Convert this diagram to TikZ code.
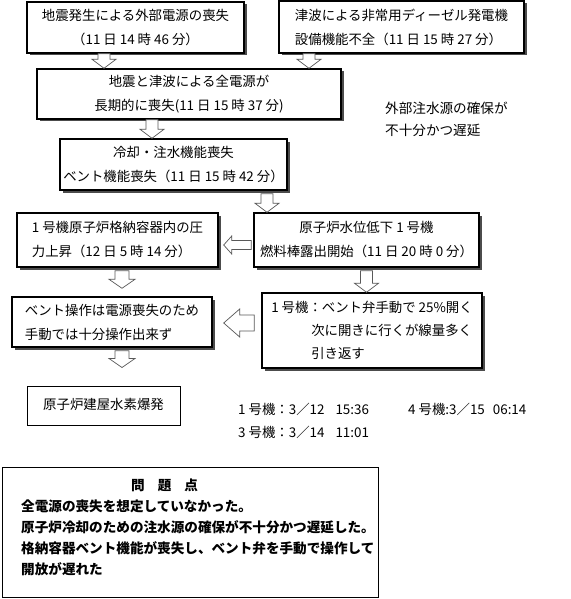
\documentclass[tikz,border=0pt]{standalone}
\usepackage{fontspec}
\setmainfont{Noto Sans CJK JP}
\usetikzlibrary{shadows,calc}
\newcommand\jpfont{\fontsize{13.4}{24}\selectfont}
\tikzset{
  box/.style={draw, line width=1.4pt, fill=white, inner sep=0pt, align=center,
    font=\jpfont,
    drop shadow={shadow xshift=2.5pt, shadow yshift=-2.5pt, fill=black!70, opacity=1}},
  plainbox/.style={draw, line width=1pt, fill=white, inner sep=0pt, align=center, font=\jpfont},
  freetext/.style={inner sep=0pt, align=left, font=\jpfont},
  blockdown/.style n args={3}{draw=black!65, line width=0.7pt, fill=white,
    to path={let \p1=(\tikztostart), \p2=(\tikztotarget) in
      (\x1-#1pt,\y1) -- (\x1-#1pt,\y2+#3pt) -- (\x1-#2pt,\y2+#3pt) -- (\x1,\y2)
      -- (\x1+#2pt,\y2+#3pt) -- (\x1+#1pt,\y2+#3pt) -- (\x1+#1pt,\y1) -- cycle}},
  blockleft/.style n args={3}{draw=black!65, line width=0.7pt, fill=white,
    to path={let \p1=(\tikztostart), \p2=(\tikztotarget) in
      (\x1,\y1+#1pt) -- (\x2+#3pt,\y1+#1pt) -- (\x2+#3pt,\y1+#2pt) -- (\x2,\y1)
      -- (\x2+#3pt,\y1-#2pt) -- (\x2+#3pt,\y1-#1pt) -- (\x1,\y1-#1pt) -- cycle}}
}
\begin{document}
\begin{tikzpicture}[x=1pt,y=-1pt]
\useasboundingbox[fill=white] (0,0) rectangle (570,599);

\node[box, minimum width=217pt, minimum height=51pt] (b1) at (135.5,27.5)
  {地震発生による外部電源の喪失\\（11 日 14 時 46 分）};
\node[box, align=left, minimum width=245pt, minimum height=52pt] (b3) at (401.5,27)
  {津波による非常用ディーゼル発電機\\設備機能不全（11 日 15 時 27 分）};
\node[box, minimum width=304pt, minimum height=50pt] (b2) at (189,94)
  {地震と津波による全電源が\\長期的に喪失(11 日 15 時 37 分)};
\node[box, minimum width=227pt, minimum height=51pt] (b4) at (173.5,164.5)
  {冷却・注水機能喪失\\ベント機能喪失（11 日 15 時 42 分）};
\node[box, align=left, minimum width=201pt, minimum height=54pt] (b5) at (117.5,240)
  {1 号機原子炉格納容器内の圧\\力上昇（12 日 5 時 14 分）};
\node[box, minimum width=225pt, minimum height=54pt] (b6) at (366.5,240)
  {原子炉水位低下 1 号機\\燃料棒露出開始（11 日 20 時 0 分）};
\node[box, align=left, minimum width=200pt, minimum height=50pt] (b7) at (112,322)
  {ベント操作は電源喪失のため\\手動では十分操作出来ず};
\node[box, align=left, minimum width=220pt, minimum height=75pt,
  font=\fontsize{13.4}{23}\selectfont] (b8) at (372,330.5)
  {1 号機：ベント弁手動で 25\%開く\\\hspace*{40pt}次に開きに行くが線量多く\\\hspace*{40pt}引き返す};
\node[plainbox, minimum width=153pt, minimum height=39pt] (b9) at (103.5,405.5)
  {\raisebox{3pt}{原子炉建屋水素爆発}};

\node[freetext, anchor=west, font=\fontsize{13.6}{22}\selectfont] (note) at (385,119)
  {外部注水源の確保が\\不十分かつ遅延};
\node[freetext, anchor=west] (t1) at (238,409) {1 号機：3／12\hspace{11pt}15:36};
\node[freetext, anchor=west] (t2) at (408,409) {4 号機:3／15\hspace{8pt}06:14};
\node[freetext, anchor=west] (t3) at (238,432) {3 号機：3／14\hspace{11pt}11:01};

\node[draw, line width=1pt, minimum width=376pt, minimum height=130pt, inner sep=0pt] (prob) at (190,532) {};
\node[freetext, anchor=north west, font=\bfseries\fontsize{13.6}{21}\selectfont] (probtxt) at (21,479)
  {\hspace*{110pt}問\hspace{13pt}題\hspace{13pt}点\\
   全電源の喪失を想定していなかった。\\
   原子炉冷却のための注水源の確保が不十分かつ遅延した。\\
   格納容器ベント機能が喪失し、ベント弁を手動で操作して\\
   開放が遅れた};

\draw[blockdown={6}{12}{9}] ([xshift=-31.5pt]b1.south) to (b2.north);
\draw[blockdown={6}{12}{9}] ([xshift=-92.5pt]b3.south) to (b2.north);
\draw[blockdown={6}{12}{9}] ([xshift=-37pt]b2.south) to (b4.north);
\draw[blockdown={6}{12}{9}] ([xshift=93.5pt,yshift=-3pt]b4.south) to (b6.north);
\draw[blockleft={4.5}{9}{8}] ([xshift=-2pt,yshift=-5pt]b6.west) to ([xshift=5pt]b5.east);
\draw[blockdown={7}{13}{9}] ([xshift=4.5pt,yshift=-3pt]b5.south) to ([yshift=8pt]b7.north);
\draw[blockdown={6}{12}{9}] ([yshift=-3pt]b6.south) to (b8.north);
\draw[blockleft={8}{14}{16}] ([xshift=-7pt,yshift=7.5pt]b8.west) to ([xshift=11pt]b7.east);
\draw[blockdown={7}{13}{9}] ([xshift=10pt,yshift=-3pt]b7.south) to ([yshift=18pt]b9.north);
\end{tikzpicture}
\end{document}
